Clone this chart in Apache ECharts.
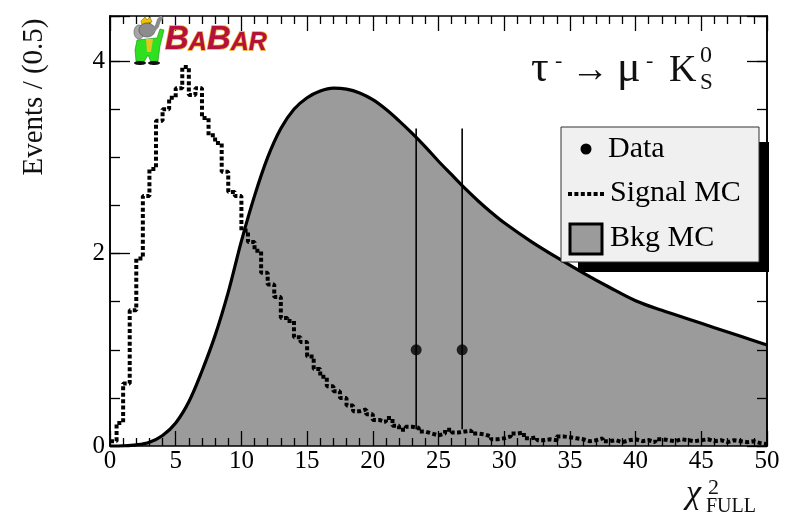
<!DOCTYPE html>
<html>
<head>
<meta charset="utf-8">
<script src="https://cdn.jsdelivr.net/npm/echarts@6/dist/echarts.min.js"></script>
<style>
  html, body { margin: 0; padding: 0; background: #ffffff; }
  #chart { width: 792px; height: 521px; }
</style>
</head>
<body>
<div id="chart"></div>
<script>
// Signal MC histogram: 100 bins of width 0.5 over chi2 in [0, 50]
const binWidth = 0.5;
const signalMC = [
  0.05, 0.24, 0.65, 1.41, 1.95, 2.60, 2.88, 3.38, 3.50, 3.62,
  3.72, 3.94, 3.65, 3.72, 3.41, 3.23, 3.15, 2.85, 2.64, 2.60,
  2.24, 2.12, 2.03, 1.80, 1.68, 1.55, 1.33, 1.30, 1.13, 1.08,
  0.93, 0.80, 0.72, 0.62, 0.57, 0.50, 0.42, 0.36, 0.38, 0.33,
  0.27, 0.25, 0.29, 0.21, 0.17, 0.20, 0.19, 0.15, 0.13, 0.11,
  0.13, 0.17, 0.14, 0.15, 0.16, 0.13, 0.12, 0.10, 0.07, 0.08,
  0.10, 0.13, 0.14, 0.08, 0.09, 0.06, 0.07, 0.06, 0.10, 0.09,
  0.08, 0.07, 0.05, 0.06, 0.08, 0.05, 0.06, 0.04, 0.06, 0.07,
  0.05, 0.06, 0.04, 0.07, 0.06, 0.05, 0.07, 0.06, 0.05, 0.06,
  0.07, 0.05, 0.06, 0.04, 0.06, 0.05, 0.04, 0.05, 0.03, 0.02
];

// Background MC shape (smooth curve)
const bkgX = [0, 1, 2, 3, 4, 5, 6, 7, 8, 9, 10, 11, 12, 13, 14, 15, 16, 17, 18, 19, 20,
              21, 22, 23, 24, 25, 26, 27, 28, 29, 30, 32, 34, 36, 38, 40, 42, 44, 46, 48, 50];
const bkgY = [0, 0.002, 0.012, 0.04, 0.11, 0.24, 0.46, 0.78, 1.15, 1.60, 2.13, 2.60, 3.00, 3.30, 3.50, 3.62, 3.69, 3.72, 3.71, 3.67, 3.60,
              3.50, 3.38, 3.25, 3.11, 2.96, 2.82, 2.68, 2.55, 2.43, 2.32, 2.13, 1.96, 1.80, 1.65, 1.51, 1.41, 1.32, 1.23, 1.14, 1.05];

// Observed events with asymmetric Poisson errors
const dataX = [23.3, 26.8];
const dataY = [1, 1];
const dataErrLow = [0.173, 0.173];
const dataErrHigh = [3.30, 3.30];

// Axis ranges and labelled ticks
const xMin = 0, xMax = 50, xStep = 5;
const yMin = 0, yMax = 4.47, yLabelStep = 2, yMinorStep = 0.5;
const yLabels = [0, 2, 4];

const serif = "'Liberation Serif', 'DejaVu Serif', serif";
const ink = '#000000';
const bkgFill = '#9b9b9b';

const signalSteps = signalMC.map((v, i) => [i * binWidth, v]);
signalSteps.push([signalMC.length * binWidth, signalMC[signalMC.length - 1]]);

const bkgPoints = bkgX.map((x, i) => [x, bkgY[i]]);

function xAxisDef(pos, showLabels) {
  return {
    type: 'value', position: pos, min: xMin, max: xMax, interval: xStep, z: 5,
    axisLine: { show: true, onZero: false, lineStyle: { color: ink, width: 1.6 } },
    axisTick: { show: true, inside: true, length: 15, lineStyle: { color: ink, width: 1.3 } },
    minorTick: { show: true, splitNumber: 5, length: 8, lineStyle: { color: ink, width: 1.3 } },
    axisLabel: { show: showLabels, fontFamily: serif, fontSize: 25, color: ink, margin: 3 },
    splitLine: { show: false }, minorSplitLine: { show: false }
  };
}

function yAxisDef(pos, step, tickLen, showLabels) {
  return {
    type: 'value', position: pos, min: yMin, max: yMax, interval: step, z: 5,
    axisLine: { show: true, onZero: false, lineStyle: { color: ink, width: 1.6 } },
    axisTick: { show: true, inside: true, length: tickLen, lineStyle: { color: ink, width: 1.3 } },
    axisLabel: {
      show: showLabels, fontFamily: serif, fontSize: 25, color: ink, margin: 5,
      formatter: v => (yLabels.indexOf(v) >= 0 ? String(v) : '')
    },
    splitLine: { show: false }
  };
}

const chart = echarts.init(document.getElementById('chart'), null, { renderer: 'canvas' });

const legendFont = { fontFamily: serif, fontSize: 30, fill: ink };
const logoStyle = {
  fontFamily: "'Liberation Sans', sans-serif", fontWeight: 'bold', fontStyle: 'italic',
  fill: '#b3123d', stroke: '#f6a51f', lineWidth: 1.4, verticalAlign: 'bottom'
};

chart.setOption({
  animation: false,
  backgroundColor: '#ffffff',
  grid: { left: 110, right: 25, top: 16, bottom: 75, containLabel: false },
  xAxis: [xAxisDef('bottom', true), xAxisDef('top', false)],
  yAxis: [
    yAxisDef('left', yMinorStep, 10, true),
    yAxisDef('left', yLabelStep, 20, false),
    yAxisDef('right', yMinorStep, 10, false),
    yAxisDef('right', yLabelStep, 20, false)
  ],
  series: [
    {
      name: 'Bkg MC', type: 'line', data: bkgPoints, smooth: 0.35, showSymbol: false,
      lineStyle: { color: ink, width: 3.2 },
      areaStyle: { color: bkgFill, opacity: 1 },
      z: 1
    },
    {
      name: 'Signal MC', type: 'line', data: signalSteps, step: 'end', showSymbol: false,
      lineStyle: { color: ink, width: 4, type: [4, 2.4], cap: 'butt' },
      z: 3
    },
    {
      name: 'Data errors', type: 'custom',
      data: dataX.map((x, i) => [x, dataErrLow[i], dataErrHigh[i]]),
      encode: { x: 0, y: [1, 2] },
      renderItem: function (params, api) {
        const lo = api.coord([api.value(0), api.value(1)]);
        const hi = api.coord([api.value(0), api.value(2)]);
        return {
          type: 'line',
          shape: { x1: lo[0], y1: lo[1], x2: hi[0], y2: hi[1] },
          style: { stroke: ink, lineWidth: 1.6 }
        };
      },
      z: 6
    },
    {
      name: 'Data', type: 'scatter', data: dataX.map((x, i) => [x, dataY[i]]),
      symbol: 'circle', symbolSize: 11, itemStyle: { color: ink }, z: 7
    }
  ],
  graphic: [
    // y axis title
    {
      type: 'text', x: 34, y: 97, rotation: Math.PI / 2, z: 10,
      style: { text: 'Events / (0.5)', fontFamily: serif, fontSize: 29, fill: '#111', align: 'center', verticalAlign: 'middle' }
    },
    // x axis title: chi^2_FULL
    { type: 'text', x: 686, y: 494, z: 10, style: { text: 'χ', fontFamily: serif, fontStyle: 'italic', fontSize: 34, fill: '#111', verticalAlign: 'middle' } },
    { type: 'text', x: 708, y: 488, z: 10, style: { text: '2', fontFamily: serif, fontSize: 22, fill: '#111', verticalAlign: 'middle' } },
    { type: 'text', x: 706, y: 507, z: 10, style: { text: 'FULL', fontFamily: serif, fontSize: 20, fill: '#111', verticalAlign: 'middle' } },

    // decay channel label
    { type: 'text', x: 531, y: 69, z: 10, style: { text: 'τ', fontFamily: serif, fontSize: 44, fill: '#111', verticalAlign: 'middle' } },
    { type: 'text', x: 555, y: 61, z: 10, style: { text: '-', fontFamily: serif, fontSize: 22, fill: '#111', verticalAlign: 'middle' } },
    { type: 'text', x: 571, y: 71, z: 10, style: { text: '→', fontFamily: serif, fontSize: 38, fill: '#111', verticalAlign: 'middle' } },
    { type: 'text', x: 617, y: 69, z: 10, style: { text: 'μ', fontFamily: serif, fontSize: 44, fill: '#111', verticalAlign: 'middle' } },
    { type: 'text', x: 646, y: 61, z: 10, style: { text: '-', fontFamily: serif, fontSize: 22, fill: '#111', verticalAlign: 'middle' } },
    { type: 'text', x: 669, y: 71, z: 10, style: { text: 'K', fontFamily: serif, fontSize: 38, fill: '#111', verticalAlign: 'middle' } },
    { type: 'text', x: 700, y: 56, z: 10, style: { text: '0', fontFamily: serif, fontSize: 24, fill: '#111', verticalAlign: 'middle' } },
    { type: 'text', x: 700, y: 83, z: 10, style: { text: 'S', fontFamily: serif, fontSize: 23, fill: '#111', verticalAlign: 'middle' } },

    // legend: shadow, frame and entries
    { type: 'rect', z: 20, shape: { x: 578, y: 142, width: 191, height: 130 }, style: { fill: '#000' } },
    { type: 'rect', z: 21, shape: { x: 561, y: 127, width: 198, height: 135 }, style: { fill: '#f0f0f0', stroke: '#333', lineWidth: 1 } },
    { type: 'circle', z: 22, shape: { cx: 586, cy: 149, r: 5.5 }, style: { fill: ink } },
    { type: 'text', z: 22, x: 608, y: 149, style: Object.assign({ text: 'Data', verticalAlign: 'middle' }, legendFont) },
    { type: 'line', z: 22, shape: { x1: 568, y1: 194, x2: 605, y2: 194 }, style: { stroke: ink, lineWidth: 4, lineDash: [4, 2.4] } },
    { type: 'text', z: 22, x: 610, y: 193, style: Object.assign({ text: 'Signal MC', verticalAlign: 'middle' }, legendFont) },
    { type: 'rect', z: 22, shape: { x: 570, y: 224, width: 32, height: 30 }, style: { fill: bkgFill, stroke: ink, lineWidth: 3 } },
    { type: 'text', z: 22, x: 610, y: 238, style: Object.assign({ text: 'Bkg MC', verticalAlign: 'middle' }, legendFont) },

    // experiment logo: elephant mascot and lettering
    { type: 'polygon', z: 12, shape: { points: [[141, 21], [145, 17], [147, 20], [150, 17], [152, 22], [142, 25]] }, style: { fill: '#f2c200', stroke: '#8a7000', lineWidth: 0.6 } },
    { type: 'ellipse', z: 12, shape: { cx: 139, cy: 32, rx: 5, ry: 7 }, style: { fill: '#a6a6a6', stroke: '#555', lineWidth: 0.6 } },
    { type: 'ellipse', z: 13, shape: { cx: 147, cy: 30, rx: 8, ry: 7 }, style: { fill: '#8c8c8c', stroke: '#444', lineWidth: 0.6 } },
    { type: 'polyline', z: 13, shape: { points: [[153, 31], [157, 26], [159, 20], [161, 18]] }, style: { stroke: '#8c8c8c', lineWidth: 4, lineCap: 'round' } },
    { type: 'polygon', z: 12, shape: { points: [[137, 40], [157, 38], [160, 29], [164, 30], [160, 46], [158, 61], [151, 62], [148, 55], [144, 62], [136, 61], [135, 50]] }, style: { fill: '#2ee020', stroke: '#1a8a10', lineWidth: 0.6 } },
    { type: 'polygon', z: 13, shape: { points: [[146, 39], [153, 39], [151, 52], [147, 52]] }, style: { fill: '#e9c41e' } },
    { type: 'ellipse', z: 13, shape: { cx: 140, cy: 63, rx: 6, ry: 2 }, style: { fill: '#111' } },
    { type: 'ellipse', z: 13, shape: { cx: 154, cy: 63, rx: 6, ry: 2 }, style: { fill: '#111' } },
    {
      type: 'text', z: 12, x: 165, y: 56,
      style: {
        text: '{b|B}{a|A}{b|B}{a|A}{a|R}',
        verticalAlign: 'bottom',
        rich: {
          b: Object.assign({ fontSize: 33 }, logoStyle),
          a: Object.assign({ fontSize: 25 }, logoStyle)
        }
      }
    }
  ]
});
</script>
</body>
</html>
